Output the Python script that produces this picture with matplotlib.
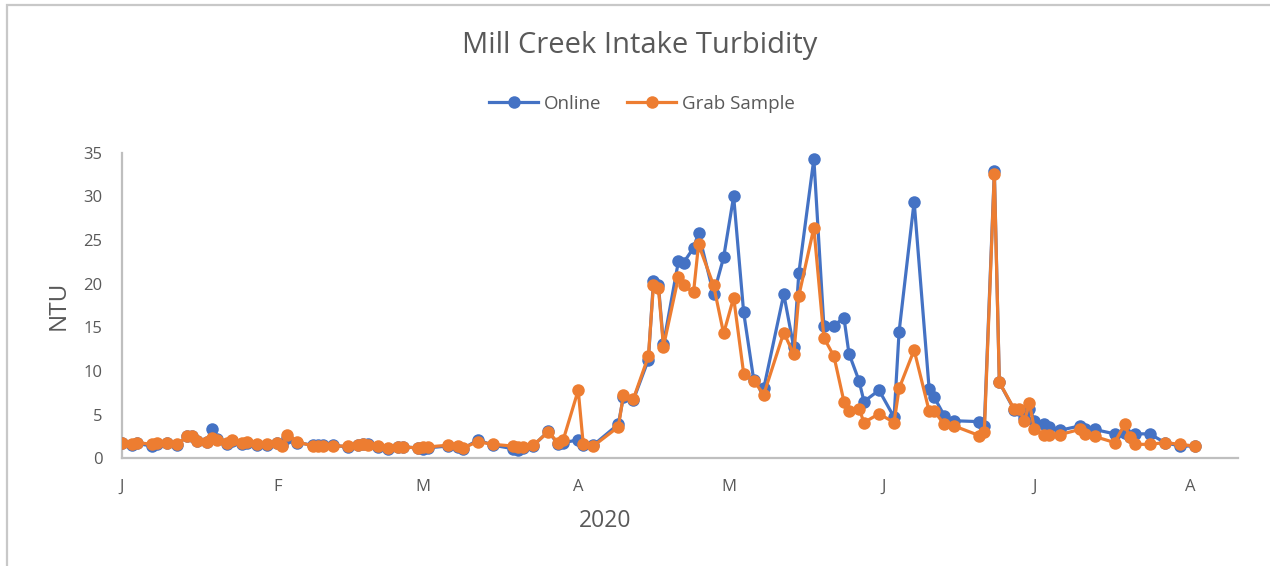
import matplotlib
matplotlib.use("Agg")
import matplotlib.pyplot as plt
from matplotlib.patches import Rectangle
import pandas as pd

dates = [
    "2020-01-01", "2020-01-03", "2020-01-04", "2020-01-07", "2020-01-08", "2020-01-10",
    "2020-01-12", "2020-01-14", "2020-01-15", "2020-01-16", "2020-01-18", "2020-01-19",
    "2020-01-20", "2020-01-22", "2020-01-23", "2020-01-25", "2020-01-26", "2020-01-28",
    "2020-01-30", "2020-02-01", "2020-02-02", "2020-02-03", "2020-02-05", "2020-02-08",
    "2020-02-09", "2020-02-10", "2020-02-12", "2020-02-15", "2020-02-17", "2020-02-18",
    "2020-02-19", "2020-02-21", "2020-02-23", "2020-02-25", "2020-02-26", "2020-02-29",
    "2020-03-01", "2020-03-02", "2020-03-06", "2020-03-08", "2020-03-09", "2020-03-12",
    "2020-03-15", "2020-03-19", "2020-03-20", "2020-03-21", "2020-03-23", "2020-03-26",
    "2020-03-28", "2020-03-29", "2020-04-01", "2020-04-02", "2020-04-04", "2020-04-09",
    "2020-04-10", "2020-04-12", "2020-04-15", "2020-04-16", "2020-04-17", "2020-04-18",
    "2020-04-21", "2020-04-22", "2020-04-24", "2020-04-25", "2020-04-28", "2020-04-30",
    "2020-05-02", "2020-05-04", "2020-05-06", "2020-05-08", "2020-05-12", "2020-05-14",
    "2020-05-15", "2020-05-18", "2020-05-20", "2020-05-22", "2020-05-24", "2020-05-25",
    "2020-05-27", "2020-05-28", "2020-05-31", "2020-06-03", "2020-06-04", "2020-06-07",
    "2020-06-10", "2020-06-11", "2020-06-13", "2020-06-15", "2020-06-20", "2020-06-21",
    "2020-06-23", "2020-06-24", "2020-06-27", "2020-06-28", "2020-06-29", "2020-06-30",
    "2020-07-01", "2020-07-03", "2020-07-04", "2020-07-06", "2020-07-10", "2020-07-11",
    "2020-07-13", "2020-07-17", "2020-07-19", "2020-07-20", "2020-07-21", "2020-07-24",
    "2020-07-27", "2020-07-30", "2020-08-02",
]

online = [
    1.7, 1.5, 1.7, 1.4, 1.6, 1.7,
    1.5, 2.6, 2.6, 2.0, 1.9, 3.4,
    2.2, 1.6, 2.0, 1.6, 1.8, 1.5,
    1.5, 1.8, 1.5, 2.3, 1.8, 1.5,
    1.5, 1.5, 1.5, 1.3, 1.5, 1.6,
    1.6, 1.3, 1.1, 1.3, 1.3, 1.2,
    1.1, 1.2, 1.4, 1.3, 1.1, 2.1,
    1.5, 1.1, 1.0, 1.2, 1.4, 3.1,
    1.6, 1.8, 2.1, 1.5, 1.5, 3.9,
    7.0, 6.7, 11.3, 20.3, 19.8, 13.1,
    22.6, 22.4, 24.1, 25.8, 18.8, 23.0,
    30.0, 16.7, 9.0, 8.0, 18.8, 12.7,
    21.2, 34.3, 15.1, 15.2, 16.1, 12.0,
    8.9, 6.5, 7.8, 4.7, 14.5, 29.4,
    7.9, 7.0, 4.9, 4.3, 4.2, 3.7,
    32.9, 8.7, 5.5, 5.5, 4.6, 5.7,
    4.3, 3.9, 3.6, 3.2, 3.7, 3.4,
    3.3, 2.8, 2.9, 2.4, 2.8, 2.8,
    1.8, 1.4, 1.4,
]

grab = [
    1.8, 1.6, 1.8, 1.6, 1.7, 1.8,
    1.6, 2.5, 2.5, 2.0, 1.9, 2.3,
    2.1, 1.7, 2.1, 1.7, 1.9, 1.6,
    1.6, 1.7, 1.4, 2.7, 1.9, 1.4,
    1.4, 1.4, 1.4, 1.4, 1.5, 1.6,
    1.5, 1.4, 1.2, 1.3, 1.3, 1.2,
    1.3, 1.3, 1.5, 1.4, 1.2, 1.9,
    1.6, 1.4, 1.3, 1.3, 1.5, 3.0,
    1.8, 2.1, 7.8, 1.6, 1.4, 3.6,
    7.2, 6.8, 11.7, 19.8, 19.5, 12.8,
    20.8, 19.8, 19.0, 24.5, 19.8, 14.3,
    18.4, 9.7, 8.9, 7.3, 14.4, 11.9,
    18.6, 26.4, 13.8, 11.7, 6.5, 5.4,
    5.7, 4.1, 5.1, 4.1, 8.0, 12.4,
    5.4, 5.4, 3.9, 3.7, 2.6, 3.0,
    32.6, 8.7, 5.6, 5.6, 4.3, 6.3,
    3.3, 2.7, 2.7, 2.7, 3.3, 2.8,
    2.5, 1.8, 3.9, 2.4, 1.6, 1.6,
    1.8, 1.6, 1.4,
]

series_names = ["Online", "Grab Sample"]
month_labels = ["J", "F", "M", "A", "M", "J", "J", "A"]
month_starts = ["2020-01-01", "2020-02-01", "2020-03-01", "2020-04-01",
                "2020-05-01", "2020-06-01", "2020-07-01", "2020-08-01"]
title = "Mill Creek Intake Turbidity"
y_ticks = [0, 5, 10, 15, 20, 25, 30, 35]

plt.rcParams['font.family'] = ['Open Sans', 'DejaVu Sans']
TXT = "#595959"
BLUE = "#4472C4"
ORANGE = "#ED7D31"

W, H = 1270, 566
fig = plt.figure(figsize=(W / 100, H / 100), dpi=100)
fig.patch.set_facecolor("white")

# outer chart border (partially visible)
fig.patches.append(Rectangle((7 / W, -0.05), 1.2, 1 - 5 / H + 0.05,
                             transform=fig.transFigure, fill=False,
                             edgecolor="#C8C8C8", linewidth=1.6))

ax = fig.add_axes([122 / W, 1 - 458.3 / H, (1238 - 122) / W, (458.3 - 152.7) / H])

d = pd.to_datetime(dates)
ax.plot(d, online, color=BLUE, lw=2.3, marker="o", ms=9,
        markeredgewidth=0, label=series_names[0], zorder=3)
ax.plot(d, grab, color=ORANGE, lw=2.3, marker="o", ms=9,
        markeredgewidth=0, label=series_names[1], zorder=4)

ax.set_xlim(pd.Timestamp("2020-01-01"), pd.Timestamp("2020-01-01") + pd.Timedelta(days=222.6))
ax.set_ylim(0, 35)
ax.set_yticks(y_ticks)
ax.set_yticklabels([str(v) for v in y_ticks])
ax.set_xticks(pd.to_datetime(month_starts))
ax.set_xticklabels(month_labels)

for s in ["top", "right"]:
    ax.spines[s].set_visible(False)
for s in ["left", "bottom"]:
    ax.spines[s].set_color("#BFBFBF")
    ax.spines[s].set_linewidth(1.6)
ax.tick_params(axis="both", length=0, colors=TXT, labelsize=12)
ax.tick_params(axis="x", pad=15)
ax.tick_params(axis="y", pad=14)
ax.set_facecolor("white")

ax.set_ylabel("NTU", fontsize=17.5, color=TXT, labelpad=9)
fig.text(605 / W, 1 - 521 / H, "2020", ha="center", va="center", fontsize=16.5, color=TXT)
fig.text(640 / W, 1 - 46 / H, title, ha="center", va="center", fontsize=21, color=TXT)

leg = fig.legend(loc="center", bbox_to_anchor=(642 / W, 1 - 104 / H), ncol=2,
                 frameon=False, fontsize=13.5, handlelength=2.6, columnspacing=1.4,
                 handletextpad=0.3, labelcolor=TXT)

fig.savefig("out.png", dpi=100, facecolor="white")
